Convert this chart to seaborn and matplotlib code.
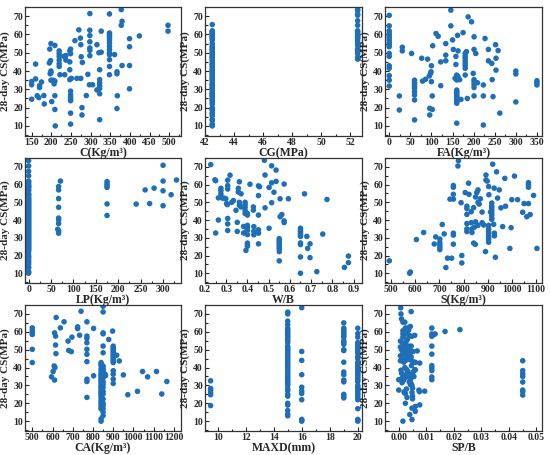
import matplotlib
matplotlib.use("Agg")
import matplotlib.pyplot as plt
import seaborn as sns
import numpy as np
from matplotlib.ticker import AutoMinorLocator, MultipleLocator, FormatStrFormatter

# ---------------- data ----------------
c_pts = [(150,34.3),(150,32.5),(150,24.6),(160,43.8),(160,35.7),(164,26.5),(168,25.5),(170,32),(170,31),(175,34),
         (181,26.6),(182,22),(195,44.4),(198,45.7),(196,52),(199,55),(199,40),(197,38.5),(199,39),(201,23.3),(199,35),
         (205,35),(207,33),(209,54),(209,19),(209,26.5),(210,10),(209,34.5),(220,51),(220,49.5),(220,48),(220,46),
         (220,44),(220,42.5),(222,38),(232,48),(237,48.5),(237,46),(234,38),(247,51),(249,49.5),(249,52),(247,45),
         (247,40.7),(247,35.3),(249,29),(249,27),(249,25.7),(249,24.5),(249,23.8),(249,17),(249,11),(251,36),
         (260,56.6),(270,62.5),(274,58),(275,54.4),(276,47.8),(275,36),(265,36),(279,44.7),(278,20),(278,16),
         (293,38.2),(297,32.5),(289,26.6),(298,71.4),(298,62.3),(298,59.4),(298,56),(298,52.6),(298,51.3),(298,48.4),
         (305,32.5),(316,54.4),(321,50),(323,40.7),(323,35.3),(323,33.5),(323,32),(323,30.5),(323,27.6),(323,13.4),
         (327,61.8),(316,29.7),(327,50.3),(348,71.2),(348,60.8),(348,59.9),(348,59),(348,58),(348,56.8),(348,55.3),
         (348,53.5),(348,51.7),(348,49.9),(348,48.9),(348,46.2),(348,42.5),(348,38),(361,49),(378,73.6),(380,67.2),
         (378,65),(367,39.6),(367,38.5),(368,26.5),(367,19.5),(380,43),(399,57.7),(399,53.3),(399,43),(399,30.3),
         (424,59.2),(497,65),(497,61.8)]
c_x = [p[0] for p in c_pts]
c_y = [p[1] for p in c_pts]

cg_low_y = [10,10.5,11,13,13.5,15.5,16.5,17,18.5,19,19.5,20,22,23,24,24.5,25,26,26.5,27,27.5,28,29,30,30.5,31,32,
            32.5,33,34,35,35.5,36,37,38,38.5,39,40,40.5,41,42,43,43.5,44,45,46,47,47.5,48,49,49.5,50,51,51.5,52,53,
            54,55,57,58,58.5,59,60,60.5,61,61.5,62,65.4]
cg_high_y = [46.5,47.5,49.5,50.5,51.5,52,54,55,56,57,58,58.5,59,60,61,61.5,62,65,67.5,70.5,71,73,73.6]
cg_x = [42.5]*len(cg_low_y) + [52.5]*len(cg_high_y)
cg_y = cg_low_y + cg_high_y

fa_pts = [(0,70.4),(0,64.7),(0,62),(0,60.5),(0,59.3),(0,58.2),(0,56.9),(0,55.5),(0,54.2),(0,53.3),(0,49.6),(0,48),
          (0,42.9),(0,41.5),(0,37.5),(0,35),(0,31.8),(24,26.4),(24,18.7),(31,53),(31,51),(53,49.6),
          (60,35),(60,33.8),(60,32.7),(60,31.5),(60,30.5),(60,28.7),(60,26.9),(60,24.2),(60,13.3),
          (77,47),(79,34.5),(86,35.5),(91,46.5),(95,37.3),(98,38.7),(99,39.6),(96,19.6),(96,16),(102,19),(100,42.9),
          (100,34.2),(102,26.4),(103,53.8),(111,60.5),(116,59),(122,45),(122,32),(134,55),(134,48.7),(134,45.6),
          (146,73.3),(146,64.7),(150,57),(152,51.8),(158,48),(158,43.6),(156,36),(162,59.5),(163,51),(163,37),
          (160,37.8),(160,36.6),(160,35.1),(160,29.6),(160,28.7),(160,27.8),(160,26.9),(160,26),(160,25.1),(160,24.2),
          (160,23.3),(160,22.4),(160,11.5),(167,35.3),(170,24.5),(175,61),(187,69.6),(195,66.9),(183,50.6),
          (180,49.6),(180,48.2),(180,47),(180,45.6),(180,44.2),(180,43),(180,41.5),(180,37.8),(185,25),
          (199,38.7),(201,35.3),(201,34.2),(201,32.7),(201,31),(201,26.4),(201,58.7),(201,51.8),(205,49.6),
          (209,33.6),(223,32.4),(223,26.4),(223,10.5),(227,57.8),(235,51.8),(235,45.6),(243,44.2),(244,35.3),
          (246,26),(252,54.4),(253,47),(253,40.5),(258,51.2),(262,17),(300,40),(300,38.4),(300,23.1),
          (350,34.7),(350,33.6),(350,32.4)]
fa_x = [p[0] for p in fa_pts]
fa_y = [p[1] for p in fa_pts]

lp_zero_y = [73.5,70.5,67.5,65,62,61.5,61,60,59.5,59,58.5,58,57,56.5,55,54.5,54,53.5,52.5,52,51.5,51,50.5,50,49.5,
             49,48.5,48,47.5,47,46.5,46,45.5,45,44.5,44,43.5,43,42.5,42,41.5,41,40.5,40,39.5,39,38.5,38,37.5,37,
             36.5,36,35.5,35,34.5,34,33.5,33,32.5,32,31.5,31,30.5,30,29.5,29,28.5,28,27.5,27,26.5,26,25.5,25,24.5,
             24,23.5,23,22,20.5,19.5,19,18,17,16,15,13.5,13,11,10.5,10]
lp_pts = [(67,58.9),(67,57),(71,62),(67,52.1),(67,47.2),(67,41.1),(67,40),(67,38),(65,34.8),(67,33.9),(67,32.6),
          (175,61.7),(175,60.4),(175,59.3),(175,58.4),(175,49.1),(175,42.6),(240,49),(270,49.3),(260,57),
          (280,58),(300,70.9),(300,62),(300,56.5),(300,48.1),(318,54.3),(330,62.6)]
lp_x = [0]*len(lp_zero_y) + [p[0] for p in lp_pts]
lp_y = lp_zero_y + [p[1] for p in lp_pts]

wb_pts = [(0.227,71.3),(0.247,62.7),(0.25,62.2),(0.25,32.7),(0.263,52.5),(0.263,40),(0.275,57.9),(0.275,56.6),
          (0.275,54.8),(0.282,52.4),(0.29,52.4),(0.298,52),(0.305,48.7),(0.302,49.3),(0.307,59.4),(0.307,57.5),
          (0.307,62.5),(0.307,40.9),(0.307,37.8),(0.307,34.1),(0.318,65.3),(0.326,50),(0.334,51),(0.346,45.5),
          (0.352,38.7),(0.352,33.6),(0.357,55.8),(0.357,57.9),(0.362,61.6),(0.362,50),(0.362,48.3),(0.37,54.8),
          (0.37,47.4),(0.382,36.4),(0.382,32.7),(0.389,50),(0.389,48.7),(0.389,47.2),(0.389,45.5),(0.389,43.7),
          (0.393,22.9),(0.395,33.6),(0.4,43.7),(0.4,42.8),(0.4,37),(0.4,36),(0.4,34.2),(0.4,31.8),(0.4,27),
          (0.4,26.1),(0.4,25.2),(0.412,60.2),(0.428,47.4),(0.428,45.6),(0.43,36.3),(0.43,33.6),(0.43,31.7),
          (0.452,53.8),(0.452,59.3),(0.457,58.8),(0.452,42.8),(0.452,34.5),(0.452,32.6),(0.452,26.6),(0.48,73.7),
          (0.483,65.4),(0.483,46.9),(0.502,58.4),(0.502,35.4),(0.514,70.6),(0.514,61),(0.514,49.8),(0.525,55.7),
          (0.535,68.2),(0.535,61.8),(0.554,52),(0.554,41.9),(0.55,29.5),(0.55,28.6),(0.55,27.7),(0.55,26.8),
          (0.55,25.8),(0.55,24.7),(0.55,23.8),(0.55,22.2),(0.55,17),(0.562,43.1),(0.573,60.3),(0.573,39.5),
          (0.573,38.6),(0.593,52),(0.68,30.8),(0.65,35.4),(0.65,34.5),(0.65,33.6),(0.65,32.7),(0.65,31.8),
          (0.65,30.8),(0.65,27.1),(0.65,26.2),(0.65,19.2),(0.65,10),(0.669,54.8),(0.684,24),(0.695,26.6),
          (0.695,18.8),(0.727,10.9),(0.755,32.1),(0.775,51.6),(0.857,13.3),(0.876,19.7),(0.876,16)]
wb_x = [p[0] for p in wb_pts]
wb_y = [p[1] for p in wb_pts]

s_pts = [(493,17),(577,10),(580,10.7),(605,29),(635,33),(679,26.5),(685,30.5),(702,29.3),(702,27.4),(702,26),
         (702,24.6),(702,23.3),(712,37.5),(720,32.2),(734,18.5),(727,13.2),(744,51.8),(758,59.5),(758,58.5),
         (758,54.5),(758,51.8),(758,32.6),(758,31.5),(758,26.4),(751,18.5),(779,73.5),(777,70.5),(790,49.8),
         (793,20),(793,15.8),(807,55.5),(814,47.8),(814,46.5),(814,43.2),(814,38),(814,35),(814,33.5),(821,60.8),
         (823,54.5),(832,44.7),(832,38.5),(835,35),(835,33),(842,27),(849,26.3),(860,57),(860,50),(865,49),
         (877,44.5),(877,38.5),(884,37.2),(891,22.2),(893,65.4),(893,62.6),(898,62),(904,58.9),(904,37),(904,35),
         (904,33.5),(904,32.5),(904,31),(904,30),(904,29),(904,27.5),(905,54.3),(912,44.5),(917,49.6),(917,48.1),
         (917,46.9),(917,45.4),(917,44.1),(917,42.8),(917,41.3),(917,40.4),(921,71.5),(925,37.6),(927,58),
         (928,32.6),(928,31.1),(932,19),(937,67.2),(941,52.4),(948,57),(955,46.9),(962,36.3),(971,63.5),
         (974,47.8),(992,24),(997,35.7),(1000,51.5),(1011,64.8),(1024,51.5),(1045,44.4),(1051,49.3),(1062,41.9),
         (1069,61.1),(1069,59.8),(1069,58.5),(1069,49.3),(1076,43.1),(1090,53.9),(1104,24),(842,47),(850,53),
         (855,55.5),(870,52),(845,36),(860,37),(850,39)]
s_x = [p[0] for p in s_pts]
s_y = [p[1] for p in s_pts]

ca_pts = [(500,62.2),(500,60.7),(500,59.4),(500,58.5),(500,50.2),(500,42.8),(595,34.8),(603,37.8),(608,40.9),
          (610,33),(612,40),(610,59.4),(615,57.6),(615,52.6),(617,47.8),(618,68),(639,62.2),(657,65.6),(677,54.8),
          (680,49.6),(693,48.9),(696,57),(724,62.8),(724,61.8),(734,58.1),(741,71.5),(770,65.6),(770,57.6),
          (770,56.3),(770,53.9),(770,50.2),(770,47.4),(770,43.3),(770,33.5),(770,32.2),(770,23.3),(803,61.9),
          (803,35.4),(878,55.7),(897,60.4),(917,46.9),(930,43.7),(950,35.9),(972,24.8),(1020,26.7),(1045,37.8),
          (1070,34.8),(1114,37.8),(1140,25.2),(1165,32.2),(860,36.3),(862,35.5)]
ca840 = [42.8,41.9,40.9,39.1,37.8,36.3,35.4,34.1,33,32.2,31.1,29.8,28.9,28,27,26.1,25.2,24.3,23.3,21.9,20.6,
         19.3,17.8,16.9,11.3,10]
ca850 = [74.3,71.1,59.4,58.9,52,48.3,40.9,39.6,38.5,37.8,36.3,35.4,34.4,32.2,30.7,28.9,26.7,25.2,22.4,20,18.7,
         16.9,15,13.1]
ca900 = [52,51,50.2,49.3,48.3,47.4,46.5,45.6,44.6,43.7,42.8,38.2,36.3,33.5,31.1]
ca_x = [p[0] for p in ca_pts] + [840]*len(ca840) + [850]*len(ca850) + [900]*len(ca900)
ca_y = [p[1] for p in ca_pts] + ca840 + ca850 + ca900

md95 = [32.6,28.3,27.4,26.1,24.8,18.7]
md15 = [71,70,66,64,62,61,60,59,58,57,56,55,54,52,51,50,49,48,47,46,45,44,43,42,41,40,39,38,37,36,35,34,33,32,
        31,30,28,27,25,24,20,19,16,14,13]
md16 = [73.5,49,44,36,29,27,25.5,22,11,10.5,10]
md19 = [65,62,61,60,59,58,57,55,54,53,50,49.5,43,37.5,36,33,32,25,24,23]
md20 = [62,59,57,54,53,52,51,50,49,48,46,45,43,42,41,40,39,38,37,36,35,34,33,32,30,29,28,27,26,25,24,23,22,17,
        11,10.5,10]
md_x = [9.5]*len(md95) + [15]*len(md15) + [16]*len(md16) + [19]*len(md19) + [20]*len(md20)
md_y = md95 + md15 + md16 + md19 + md20

sp_pts = [(0.0007,73.4),(0.0008,70),(0.001,67.2),(0.0015,65.4),(0.0022,65.4),(0.0024,62.1),(0.0015,60.6),
          (0.0015,58.8),(0.0015,57),(0.0006,54.8),(0.0015,53.5),(0.0024,53.8),(0.0006,51.5),(0.0015,50.5),
          (0.0006,46.6),(0.0006,43.8),(0.0008,38.5),(0.001,36.8),(0.0015,34.7),(0.0018,33),(0,33.2),(0,27.4),
          (0.002,26.5),(0.0024,25.5),(0.0015,10),(0.0024,20),(0.003,23.3),(0.0034,62.1),(0.0042,63),(0.0048,57.5),
          (0.0045,71.3),(0.0046,41.1),(0.0048,34.7),(0.004,13.7),(0.0048,17.3),(0.0048,10.9),(0.0058,58),
          (0.006,42.9),(0.006,38.7),(0.0067,49.3),(0.006,18.2),(0.006,15.5),(0.0073,27.4),(0.0075,26.5),
          (0.0076,19.1),(0.0076,42.5),(0.0094,26.8),(0.002,48),(0.0025,47),(0.003,49),(0.0035,48.5),(0.004,47.5),
          (0.0028,46),(0.0032,45),(0.0038,44.5),(0.0025,44),(0.002,51),(0.003,51.5),(0.0035,52),(0.004,50),
          (0.0045,52),(0.0028,55),(0.0032,56),(0.0038,58),(0.002,58.5),(0.003,60),(0.0036,61),(0.0026,62),
          (0.0018,43),(0.0022,40),(0.0028,39),(0.0032,38),(0.0036,36.5),(0.004,35.5),(0.0025,36),(0.003,35),
          (0.002,34),(0.0042,33),(0.0045,31),(0.0048,30),(0.005,28.5),(0.0048,26),(0.005,24),(0.005,22.5),
          (0.0042,30.5),(0.0038,32),(0.0012,31.5),(0.0008,33.5),(0.0052,37.5),(0.0055,35),(0.0058,38.8),
          (0.005,43.5),(0.0045,46),(0.0052,49),(0.0015,48.5),(0.001,50),(0.0012,45),(0.0028,28),(0.002,26),
          (0.012,62.1),(0.012,58.8),(0.012,57.5),(0.012,52),(0.012,47.5),(0.012,41.1),(0.012,39.8),(0.012,38.3),
          (0.012,34.7),(0.012,33.2),(0.0127,58.4),(0.0132,58.8),(0.0168,60.2),(0.0222,61.2),
          (0.045,43.8),(0.045,38.3),(0.045,36.5),(0.045,35),(0.045,31.9),(0.045,27.4),(0.045,26.5),(0.045,24.6)]
sp_x = [p[0] for p in sp_pts]
sp_y = [p[1] for p in sp_pts]

x_labels = ["C(Kg/m³)", "CG(MPa)", "FA(Kg/m³)", "LP(Kg/m³)", "W/B", "S(Kg/m³)", "CA(Kg/m³)", "MAXD(mm)", "SP/B"]
y_label = "28-day CS(MPa)"

# ---------------- styling ----------------
sns.set_style("ticks")
plt.rcParams['font.family'] = ['Liberation Serif', 'DejaVu Serif']
plt.rcParams['font.weight'] = 'bold'
plt.rcParams['axes.labelweight'] = 'bold'

color = "#1f6fb8"
fig = plt.figure(figsize=(5.5, 4.55), dpi=100)
W, H = 550, 455
cols = [(25, 181), (205, 362), (385, 542)]
rows = [(7, 136), (158, 283), (305, 431)]

panels = [
    (c_x, c_y, (133, 530), 50, 25, "%d"),
    (cg_x, cg_y, (42, 52.8), 2, 1, "%d"),
    (fa_x, fa_y, (-10, 362), 50, 25, "%d"),
    (lp_x, lp_y, (-8, 340), 50, 25, "%d"),
    (wb_x, wb_y, (0.2, 0.94), 0.1, 0.05, "%.1f"),
    (s_x, s_y, (475, 1125), 100, 50, "%d"),
    (ca_x, ca_y, (464, 1235), 100, 50, "%d"),
    (md_x, md_y, (9.1, 20.3), 2, 1, "%d"),
    (sp_x, sp_y, (-0.005, 0.052), 0.01, 0.005, "%.2f"),
]

for i, (xs, ys, xlim, maj, mnr, fmt) in enumerate(panels):
    r, cidx = divmod(i, 3)
    l, rr = cols[cidx]
    t, b = rows[r]
    ax = fig.add_axes([l / W, 1 - b / H, (rr - l) / W, (b - t) / H])
    sns.scatterplot(x=xs, y=ys, ax=ax, color=color, s=16, linewidth=0, edgecolor="none")
    ax.set_xlim(*xlim)
    ax.set_ylim(4.5, 75)
    ax.xaxis.set_major_locator(MultipleLocator(maj))
    ax.xaxis.set_minor_locator(MultipleLocator(mnr))
    ax.xaxis.set_major_formatter(FormatStrFormatter(fmt))
    ax.yaxis.set_major_locator(MultipleLocator(10))
    ax.yaxis.set_minor_locator(MultipleLocator(5))
    ax.tick_params(which='both', direction='in', labelsize=7, width=0.8, pad=1.5)
    ax.tick_params(which='major', length=3)
    ax.tick_params(which='minor', length=1.8)
    for lab in ax.get_xticklabels() + ax.get_yticklabels():
        lab.set_fontweight('bold')
    for sp in ax.spines.values():
        sp.set_visible(True)
        sp.set_color('#333333')
        sp.set_linewidth(0.9)
    ax.set_xlabel(x_labels[i], fontsize=8.5, fontweight='bold', labelpad=0)
    ax.set_ylabel(y_label, fontsize=8, fontweight='bold', labelpad=2)

fig.savefig("out.png", dpi=100)
